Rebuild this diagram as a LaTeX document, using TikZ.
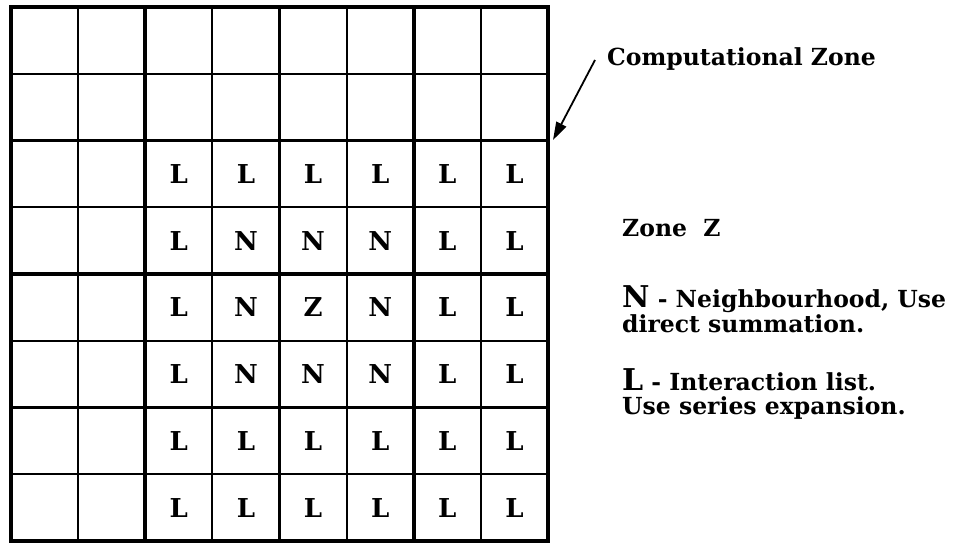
\documentclass[tikz,border=0pt]{standalone}
\usepackage{fontspec}
\setmainfont{DejaVu Serif}
\usetikzlibrary{arrows.meta}
\newcommand\myBigLetter{\fontsize{30}{30}\selectfont}
\begin{document}
\begin{tikzpicture}[x=1pt,y=-1pt,
  thingrid/.style={line width=2pt},
  thickgrid/.style={line width=3.6pt},
  outergrid/.style={line width=4.6pt},
  cell/.style={font=\bfseries\fontsize{26}{26}\selectfont, inner sep=0pt},
  legend/.style={font=\bfseries\fontsize{23.5}{25}\selectfont, anchor=base west, inner sep=0pt},
  pointer/.style={-{Triangle[length=18pt,width=11pt]}, line width=1.8pt}
  ]
\useasboundingbox (0,0) rectangle (960,544);
% grid
\foreach \i in {1,3,5,7} {
  \draw[thingrid] ({11+67.125*\i},7) -- ({11+67.125*\i},541);
  \draw[thingrid] (11,{7+66.75*\i}) -- (548,{7+66.75*\i});
}
\foreach \i in {2,4,6} {
  \draw[thickgrid] ({11+67.125*\i},7) -- ({11+67.125*\i},541);
  \draw[thickgrid] (11,{7+66.75*\i}) -- (548,{7+66.75*\i});
}
\draw[outergrid] (11,7) rectangle (548,541);
% cell letters
\foreach \r/\pa/\pb/\pc/\pd/\pe/\pf in {2/L/L/L/L/L/L, 3/L/N/N/N/L/L, 4/L/N/Z/N/L/L, 5/L/N/N/N/L/L, 6/L/L/L/L/L/L, 7/L/L/L/L/L/L} {
  \foreach \t [count=\k from 2] in {\pa,\pb,\pc,\pd,\pe,\pf}
    \node[cell] (c\r-\k) at ({11+67.125*(\k+0.5)},{7+66.75*(\r+0.5)}) {\t};
}
% pointer
\node[legend] (comp) at (607,65) {Computational Zone};
\coordinate (pstart) at (595,60);
\coordinate (pend) at (553,140);
\draw[pointer] (pstart) -- (pend);
% legend
\node[legend] (zone) at (622,236) {Zone\ \ Z};
\node[legend] (nleg) at (622,307) {{\myBigLetter N} - Neighbourhood, Use};
\node[legend] (nleg2) at (622,332) {direct summation.};
\node[legend] (lleg) at (622,390) {{\myBigLetter L} - Interaction list.};
\node[legend] (lleg2) at (622,414) {Use series expansion.};
\end{tikzpicture}
\end{document}
